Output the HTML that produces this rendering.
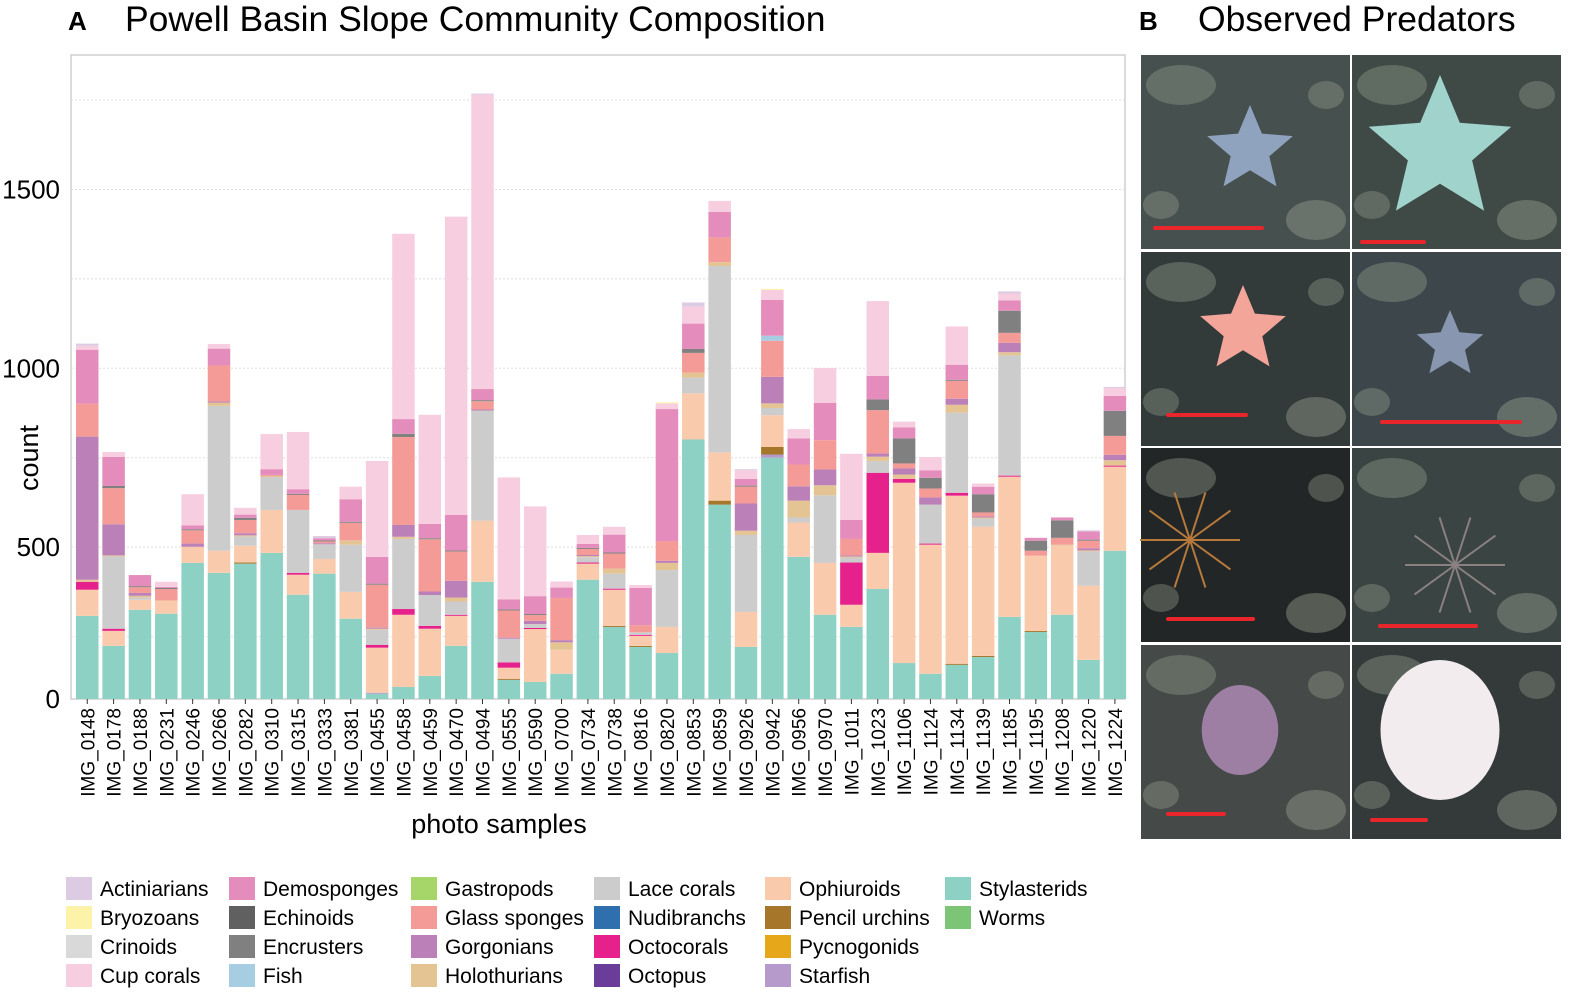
<!DOCTYPE html>
<html><head><meta charset="utf-8"><style>
body{margin:0;background:#fff;width:1574px;height:998px;overflow:hidden;font-family:"Liberation Sans",Arial,sans-serif}
svg{position:absolute;left:0;top:0}
</style></head><body>
<svg id="s" width="1574" height="998" xmlns="http://www.w3.org/2000/svg">
<text x="68" y="30" font-size="26" font-weight="bold">A</text>
<text x="125" y="31" font-size="35.5">Powell Basin Slope Community Composition</text>
<text x="1139" y="30" font-size="26" font-weight="bold">B</text>
<text x="1198" y="31" font-size="35.5">Observed Predators</text>
<rect x="71" y="55" width="1054" height="644" fill="#fff" stroke="#cfcfcf" stroke-width="1.5"/>
<g id="grid"></g><g id="bars"></g><g id="axes"></g><g id="legend"></g><g id="photos"></g>
<text x="499" y="833" font-size="27" text-anchor="middle">photo samples</text>
<text transform="translate(38,458) rotate(-90)" font-size="27" text-anchor="middle">count</text>
</svg>
<script>
const samples=["IMG_0148","IMG_0178","IMG_0188","IMG_0231","IMG_0246","IMG_0266","IMG_0282","IMG_0310","IMG_0315","IMG_0333","IMG_0381","IMG_0455","IMG_0458","IMG_0459","IMG_0470","IMG_0494","IMG_0555","IMG_0590","IMG_0700","IMG_0734","IMG_0738","IMG_0816","IMG_0820","IMG_0853","IMG_0859","IMG_0926","IMG_0942","IMG_0956","IMG_0970","IMG_1011","IMG_1023","IMG_1106","IMG_1124","IMG_1134","IMG_1139","IMG_1185","IMG_1195","IMG_1208","IMG_1220","IMG_1224"];
const yTicks=[0,500,1000,1500];
const gridVals=[250,500,750,1000,1250,1500,1750];
const taxa=["Actiniarians","Bryozoans","Crinoids","Cup corals","Demosponges","Echinoids","Encrusters","Fish","Gastropods","Glass sponges","Gorgonians","Holothurians","Lace corals","Nudibranchs","Octocorals","Octopus","Ophiuroids","Pencil urchins","Pycnogonids","Starfish","Stylasterids","Worms"];
const colors=["#dccbe3","#fdf3a8","#d9d9d9","#f7cde0","#e48cbb","#606060","#808080","#a6cde2","#a6d56a","#f49b98","#bb80b8","#e5c494","#cccccc","#2f6fad","#e7218b","#6a3d9a","#f9cbac","#a6762a","#e6a81a","#b59acb","#8dd1c5","#7cc576"];
const z=()=>new Array(40).fill(0);
const actin=[6,0,0,0,0,0,0,0,0,6,0,0,0,0,0,3,0,0,0,0,0,0,0,11,0,3,0,0,0,0,0,0,0,0,0,6,0,0,3,3];
const bryo=z();bryo[22]=3;bryo[26]=3;
const crin=z();
const cup=[11,14,0,14,87,13,19,98,160,0,35,268,518,305,834,823,341,251,17,25,22,8,16,48,31,24,28,26,98,185,209,16,37,107,9,19,0,0,0,22];
const demo=[151,81,31,3,11,47,9,16,13,6,63,75,41,40,99,31,28,50,29,11,50,104,369,71,71,19,100,73,104,53,66,31,21,42,21,29,8,8,23,42];
const echi=z();
const encr=[0,6,3,3,3,0,6,0,3,3,3,3,9,3,3,3,3,3,0,3,3,0,0,11,0,3,0,0,0,0,30,70,30,3,51,62,28,49,3,70];
const fish=z();fish[26]=14;
const gast=z();
const glass=[92,101,16,32,37,101,37,3,42,5,49,120,246,146,82,23,76,16,118,17,42,20,55,55,69,47,101,61,82,46,121,14,25,50,11,28,14,19,21,53];
const gorg=[400,87,8,0,9,3,6,0,0,3,0,3,33,10,47,3,3,9,6,3,0,0,6,0,0,76,74,40,44,3,9,17,20,17,3,26,0,0,6,15];
const holo=[6,3,5,0,0,9,3,3,0,0,12,3,6,0,11,0,0,0,21,3,14,0,20,14,11,12,13,47,28,3,12,12,0,22,3,9,0,3,3,15];
const lace=[0,202,6,0,0,405,26,92,176,41,132,42,196,86,37,308,66,11,0,15,42,7,159,44,521,215,20,14,189,14,33,0,109,224,23,336,0,0,96,0];
const nudi=z();
const octo=[22,6,0,0,0,0,0,0,5,0,0,8,16,8,3,0,15,3,0,3,3,3,0,0,0,0,0,0,0,118,224,11,3,8,0,3,0,0,0,3];
const octopus=z();
const ophi=[73,42,28,37,45,62,47,120,56,41,75,126,202,132,84,171,31,148,67,45,101,28,73,129,135,98,89,96,145,62,101,504,361,470,361,392,210,193,207,235];
const pencil=z();pencil[6]=3;pencil[16]=3;pencil[20]=3;pencil[21]=3;pencil[24]=11;pencil[26]=21;pencil[33]=3;pencil[34]=3;pencil[36]=3;
const pycno=z();
const star=z();star[11]=3;star[26]=9;
const styl=[308,212,325,314,456,422,454,484,367,426,300,90,109,140,224,403,126,123,146,409,277,221,201,801,619,221,750,473,311,277,383,176,146,171,193,305,263,311,185,490];
const worms=z();worms[1]=12;worms[5]=6;worms[16]=3;worms[22]=3;
const series=[actin,bryo,crin,cup,demo,echi,encr,fish,gast,glass,gorg,holo,lace,nudi,octo,octopus,ophi,pencil,pycno,star,styl,worms];

const NS="http://www.w3.org/2000/svg";
function mk(t,a,p){const e=document.createElementNS(NS,t);for(const k in a)e.setAttribute(k,a[k]);p.appendChild(e);return e;}
const y=v=>726-v*0.3577;
const xb=i=>76+i*26.35;
const BW=22.5, BASE=699;
const grid=document.getElementById('grid');
gridVals.forEach(v=>{const l=mk('line',{x1:71,x2:1125,y1:y(v),y2:y(v),stroke:'#dedede','stroke-dasharray':'2,2'},grid);

});
const bars=document.getElementById('bars');
samples.forEach((s,i)=>{
  const g=mk('g',{},bars);
  
  
  let cum=0;
  for(let k=series.length-1;k>=0;k--){
    const v=series[k][i]; if(!v) continue;
    const y0=Math.min(BASE,y(cum)), y1=Math.min(BASE,y(cum+v)); cum+=v;
    if(y0-y1<=0) continue;
    const r=mk('rect',{x:xb(i),y:y1,width:BW,height:y0-y1,fill:colors[k]},g);
    
    
  }
});
const ax=document.getElementById('axes');
yTicks.forEach(v=>{const t=mk('text',{x:60,y:(v===0?BASE:y(v))+9,'font-size':26,'text-anchor':'end'},ax);t.textContent=v;

});
samples.forEach((s,i)=>{const cx=xb(i)+BW/2;
 mk('line',{x1:cx,x2:cx,y1:699,y2:704,stroke:'#333'},ax);
 const t=mk('text',{transform:`translate(${cx+7},708) rotate(-90)`,'font-size':19,'text-anchor':'end'},ax);t.textContent=s;
 
 });
const lg=document.getElementById('legend');
const cols=[66,229,411,594,765,945];
taxa.forEach((n,i)=>{const c=Math.floor(i/4),r=i%4;const gx=cols[c],gy=877+r*29;
 const g=mk('g',{},lg);
 
 
 mk('rect',{x:gx,y:gy,width:26,height:23,fill:colors[i]},g);
 const t=mk('text',{x:gx+34,y:gy+19,'font-size':21},g);t.textContent=n;});
const ph=document.getElementById('photos');
const cells=[
 {x:1141,y:55,bg:'#46504f',fg:'#8fa3bf',shape:'star',r:45,cx:1250,cy:150,bar:[1155,1262,228]},
 {x:1352,y:55,bg:'#3f4946',fg:'#9fd3cc',shape:'star',r:75,cx:1440,cy:150,bar:[1362,1424,242]},
 {x:1141,y:252,bg:'#323a3a',fg:'#f4a59a',shape:'star',r:45,cx:1243,cy:330,bar:[1168,1246,415]},
 {x:1352,y:252,bg:'#3d474b',fg:'#8896b0',shape:'star',r:35,cx:1450,cy:345,bar:[1382,1520,422]},
 {x:1141,y:448,bg:'#232626',fg:'#b77a3b',shape:'brittle',r:50,cx:1190,cy:540,bar:[1168,1253,619]},
 {x:1352,y:448,bg:'#3a4443',fg:'#8a8080',shape:'brittle',r:50,cx:1455,cy:565,bar:[1380,1476,626]},
 {x:1141,y:645,bg:'#454a48',fg:'#9d7fa4',shape:'blob',r:45,cx:1240,cy:730,bar:[1168,1224,814]},
 {x:1352,y:645,bg:'#343a3a',fg:'#f2ecef',shape:'blob',r:70,cx:1440,cy:730,bar:[1372,1426,820]}];
cells.forEach((c,i)=>{const g=mk('g',{},ph);
 
 
 mk('rect',{x:c.x,y:c.y,width:209,height:194,fill:c.bg},g);
 mk('ellipse',{cx:c.x+40,cy:c.y+30,rx:35,ry:20,fill:'#8a9484',opacity:0.45},g);
 mk('ellipse',{cx:c.x+175,cy:c.y+165,rx:30,ry:20,fill:'#959e8e',opacity:0.45},g);
 mk('ellipse',{cx:c.x+20,cy:c.y+150,rx:18,ry:14,fill:'#a0a898',opacity:0.35},g);
 mk('ellipse',{cx:c.x+185,cy:c.y+40,rx:18,ry:14,fill:'#a0a898',opacity:0.35},g);
 if(c.shape==='star'){let p='';for(let k=0;k<10;k++){const a=-Math.PI/2+k*Math.PI/5,rr=k%2?c.r*0.45:c.r;p+=(c.cx+rr*Math.cos(a)).toFixed(1)+','+(c.cy+rr*Math.sin(a)).toFixed(1)+' ';}
  mk('polygon',{points:p,fill:c.fg},g);}
 else if(c.shape==='brittle'){for(let k=0;k<10;k++){const a=k*Math.PI/5;mk('line',{x1:c.cx,y1:c.cy,x2:c.cx+c.r*Math.cos(a),y2:c.cy+c.r*Math.sin(a),stroke:c.fg,'stroke-width':2},g);}}
 else {mk('ellipse',{cx:c.cx,cy:c.cy,rx:c.r*0.85,ry:c.r,fill:c.fg},g);}
 mk('line',{x1:c.bar[0],x2:c.bar[1],y1:c.bar[2],y2:c.bar[2],stroke:'#e8262b','stroke-width':4,'stroke-linecap':'round'},g);
});
</script>
</body></html>
